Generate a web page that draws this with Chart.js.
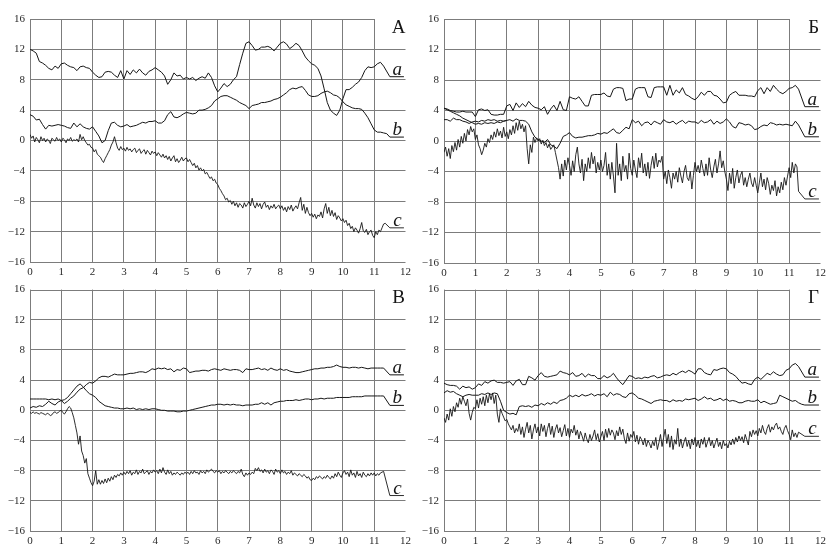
<!DOCTYPE html>
<html><head><meta charset="utf-8">
<script src="https://cdn.jsdelivr.net/npm/chart.js@4.4.1/dist/chart.umd.min.js"></script>
<style>
html,body{margin:0;padding:0;background:#fff}
body{width:830px;height:548px;position:relative;overflow:hidden}
canvas{position:absolute;display:block}
</style></head><body>
<canvas id="c1" width="415" height="278" style="left:0;top:0"></canvas>
<canvas id="c2" width="415" height="278" style="left:415px;top:0"></canvas>
<canvas id="c3" width="415" height="270" style="left:0;top:278px"></canvas>
<canvas id="c4" width="415" height="270" style="left:415px;top:278px"></canvas>
<script>
// ---------- data ----------
const X_MIN = 0, X_MAX = 12, X_STEP_TICK = 1;
const Y_MIN = -16, Y_MAX = 16, Y_STEP_TICK = 4;
const STEP_SMOOTH = 0.1;   // sampling step of a, b curves
const STEP_NOISY = 0.05;   // sampling step of c curves
const PANEL_LETTERS = ["А", "Б", "В", "Г"];
const CURVE_NAMES = ["a", "b", "c"];
const LEAD_X = [11.5, 11.95];          // label leader underline (x from, x to)

// Panel А
const p1a = [12.0,11.8,11.5,10.4,10.2,9.9,9.5,9.3,9.8,9.5,
 10.1,10.2,9.9,9.7,9.6,9.2,9.7,9.8,9.6,9.5,
 9.0,8.6,8.3,8.4,9.0,9.1,9.0,8.6,8.3,9.2,
 8.1,9.2,8.7,9.3,8.9,9.4,8.9,8.6,9.1,9.3,
 9.6,9.3,9.0,8.5,7.4,8.0,8.9,8.5,8.6,8.1,
 8.3,8.1,8.3,7.9,8.2,8.4,8.2,8.9,8.3,7.2,
 6.4,6.9,7.5,7.1,7.4,8.0,8.4,10.0,11.5,12.8,
 13.0,12.5,11.9,12.0,12.3,12.3,12.4,12.2,11.8,12.3,
 12.8,13.0,12.7,12.1,12.4,12.8,12.5,11.8,11.0,10.5,
 10.1,9.9,9.5,8.5,6.8,5.0,4.0,3.6,3.3,4.0,
 5.5,6.7,6.7,7.0,7.4,7.7,8.3,9.2,9.7,9.6,
 9.7,10.1,10.3,9.8];
const p1b = [3.4,3.2,2.7,2.8,2.1,1.5,2.0,1.9,2.0,2.1,
 2.0,1.9,1.7,1.6,2.3,1.8,2.2,1.8,1.6,1.5,
 1.8,1.2,0.6,-0.3,0.0,1.3,2.3,2.4,2.0,1.8,
 1.9,2.1,1.8,1.9,2.0,2.2,2.4,2.3,2.5,2.5,
 2.6,2.3,2.3,2.6,3.4,3.8,3.1,3.0,3.2,3.5,
 3.7,3.6,3.5,3.6,4.0,4.0,4.1,4.3,4.6,5.2,
 5.5,5.8,5.9,5.9,5.7,5.5,5.3,5.0,4.8,4.6,
 4.2,4.6,4.7,4.8,5.0,5.0,5.1,5.2,5.4,5.5,
 5.7,6.0,6.3,6.7,6.9,6.8,7.0,7.1,6.6,6.0,
 5.8,5.8,5.9,6.2,6.4,6.5,6.3,6.0,5.9,5.6,
 5.1,4.7,4.5,4.3,4.2,4.2,4.1,3.6,3.0,2.2,
 1.4,1.1,1.1,1.0,0.9];
const p1c = [0.8,0.3,0.6,-0.2,0.4,0.1,-0.3,0.5,0.0,0.3,-0.2,0.2,0.0,-0.4,0.3,0.1,-0.1,0.4,0.0,0.2,
 -0.2,0.3,0.1,-0.3,0.2,0.0,0.4,-0.1,0.1,0.0,0.2,-0.2,0.8,0.1,0.5,0.0,-0.3,-0.6,-0.5,-0.9,
 -1.0,-1.5,-1.2,-1.8,-2.0,-2.2,-2.6,-2.9,-2.4,-2.0,-1.6,-1.2,-0.6,-0.2,0.5,-0.3,-1.0,-1.3,-0.8,-1.2,
 -1.0,-1.4,-0.9,-1.3,-1.1,-1.5,-1.2,-1.0,-1.6,-1.3,-1.1,-1.7,-1.4,-1.2,-1.8,-1.3,-1.6,-1.9,-1.4,-1.7,
 -1.5,-2.0,-1.6,-1.9,-2.2,-1.8,-2.3,-2.0,-2.5,-2.1,-2.7,-2.3,-2.0,-2.8,-2.4,-2.9,-2.6,-2.2,-2.7,-2.4,
 -2.3,-2.8,-2.5,-2.9,-3.3,-3.0,-3.6,-3.3,-3.9,-3.6,-4.0,-3.8,-4.4,-4.2,-4.6,-5.0,-4.8,-5.3,-5.1,-5.6,
 -5.8,-6.3,-6.6,-7.0,-7.3,-7.8,-7.6,-8.1,-7.9,-8.4,-8.0,-8.6,-8.2,-8.8,-8.3,-8.5,-8.9,-8.2,-8.7,-8.4,
 -8.0,-8.6,-7.6,-8.5,-8.9,-8.2,-8.7,-8.3,-9.0,-8.4,-8.1,-8.8,-8.5,-9.1,-8.6,-8.9,-8.4,-9.0,-8.7,-8.5,
 -9.0,-8.6,-9.2,-8.8,-9.4,-8.7,-9.1,-8.5,-9.3,-8.9,-8.6,-9.0,-8.2,-7.5,-9.2,-8.4,-9.6,-8.8,-9.5,-9.9,
 -9.6,-10.1,-9.7,-10.3,-9.8,-10.0,-9.4,-10.2,-9.0,-8.3,-9.6,-8.8,-9.9,-9.2,-10.0,-9.5,-10.4,-9.9,-10.2,-10.6,
 -10.3,-10.8,-10.5,-11.2,-10.9,-11.6,-11.3,-12.0,-11.5,-11.8,-12.2,-11.6,-10.8,-11.9,-12.1,-11.7,-12.4,-12.0,-11.8,-12.5,
 -12.8,-12.0,-12.4,-11.8,-12.0,-11.5,-11.0,-10.9];
const p1lead = [8.4, 0.45, -11.5];

// Panel Б
const p2a = [4.3,4.2,4.0,3.9,3.8,3.8,3.9,3.8,3.8,3.8,
 3.2,4.1,4.2,4.0,4.1,3.5,3.4,3.4,3.5,3.5,
 4.6,4.8,4.0,5.0,4.4,4.9,4.5,5.2,4.7,4.4,
 4.3,4.1,4.5,3.5,4.2,4.7,4.0,5.2,4.1,4.0,
 5.8,5.6,5.5,5.8,5.2,4.6,4.6,6.0,6.1,6.1,
 6.1,6.3,5.9,5.8,6.8,7.0,7.0,6.9,5.3,5.5,
 5.5,6.8,7.0,7.0,7.0,5.8,5.7,7.0,7.1,7.1,
 7.1,6.0,7.3,6.0,6.7,6.3,7.0,6.1,5.9,5.6,
 5.4,5.8,6.4,6.0,6.5,6.5,6.0,5.9,5.5,5.0,
 5.1,6.0,6.3,6.5,6.0,6.0,6.0,5.9,5.9,5.8,
 6.6,7.0,6.2,7.0,6.5,7.3,6.8,6.4,6.2,6.5,
 6.9,7.0,7.3,6.8];
const p2b = [4.3,4.1,3.9,3.7,3.5,3.3,3.0,2.8,2.6,2.4,
 2.2,2.3,2.2,2.4,2.3,2.4,2.3,2.5,2.4,2.6,
 2.7,2.8,2.6,2.9,2.7,2.7,2.6,2.2,1.2,0.5,
 0.2,0.0,-0.2,0.2,-0.5,-0.7,-1.0,-0.3,0.6,0.8,
 1.1,0.6,0.4,0.5,0.5,0.6,0.7,0.7,0.8,1.0,
 0.9,1.1,1.0,1.3,1.6,1.1,1.0,1.4,1.8,1.6,
 2.8,2.4,2.6,2.0,2.4,2.5,2.1,2.6,2.4,2.2,
 2.8,2.5,2.4,2.6,2.2,2.5,2.7,2.3,2.6,2.5,
 2.5,2.3,2.7,2.4,2.5,2.8,2.2,2.6,2.3,2.5,
 2.9,2.5,1.9,1.7,2.4,2.3,2.1,2.2,2.0,1.5,
 1.6,1.9,2.1,2.0,2.4,2.3,2.1,2.2,2.1,2.2,
 2.1,2.0,2.6,2.1];
const p2c = [-1.5,-0.8,-2.0,-1.0,-2.3,-0.6,-1.4,-0.2,-1.2,0.2,-0.8,0.6,-0.3,1.0,0.0,1.5,0.8,1.9,1.2,1.6,
 0.2,0.8,-0.5,-1.0,-1.8,-1.2,-0.3,-0.8,0.3,-0.2,0.8,0.2,1.2,0.5,1.6,0.7,1.3,0.4,1.8,0.6,
 1.2,0.3,1.5,0.8,2.0,1.0,2.4,1.4,2.6,1.6,2.2,1.2,2.0,-1.0,-3.0,-0.5,-1.5,0.5,-0.2,0.4,
 0.0,0.3,-0.4,0.1,-0.6,-0.2,-0.9,-0.4,-1.1,-0.8,-0.5,-1.5,-2.5,-3.5,-5.0,-3.0,-4.6,-2.5,-3.8,-2.2,
 -3.2,-4.5,-2.6,-4.0,-1.8,-0.8,-3.0,-4.2,-2.4,-5.2,-3.0,-4.0,-2.2,-3.6,-1.5,-3.0,-2.0,-4.2,-2.8,-3.8,
 -2.5,-4.0,-3.2,-1.5,-4.5,-3.0,-5.0,-2.8,-4.6,-6.8,-0.3,-4.5,-3.0,-5.2,-2.0,-4.0,-3.2,-5.0,-1.6,-3.6,
 -4.5,-2.5,-3.8,-4.8,-2.2,-3.5,-1.6,-4.2,-3.0,-4.6,-2.8,-4.9,-3.2,-2.0,-3.6,-1.6,-3.4,-2.5,-2.8,-2.0,
 -5.0,-4.0,-5.6,-3.8,-4.8,-6.2,-4.2,-5.0,-4.0,-5.4,-3.5,-4.6,-5.5,-4.0,-3.2,-4.8,-5.2,-4.0,-6.3,-4.5,
 -2.8,-4.0,-3.2,-4.2,-2.5,-3.6,-4.6,-3.0,-4.5,-2.2,-3.8,-4.8,-3.4,-2.4,-4.2,-3.0,-1.3,-3.5,-2.6,-4.0,
 -5.0,-6.5,-4.2,-5.6,-3.6,-6.2,-4.8,-3.8,-5.5,-4.5,-4.0,-5.8,-4.8,-6.0,-5.0,-4.2,-5.5,-6.0,-4.8,-5.8,
 -6.8,-5.5,-4.2,-6.0,-5.0,-6.4,-4.8,-5.6,-7.0,-5.8,-6.5,-5.2,-7.2,-6.0,-6.8,-5.4,-6.4,-4.8,-5.8,-4.6,
 -3.5,-4.8,-2.8,-4.2,-3.0,-3.4,-6.6];
const p2d = [2.8,2.8,2.6,3.0,2.8,2.8,2.6,2.5,2.3,2.5,
 2.6,2.5,2.7,2.6,2.8,2.7,2.8,2.6,2.7,2.6,2.7];
const p2lead = [4.5, 0.55, -7.6];

// Panel В
const p3a = [0.3,0.5,0.4,0.6,0.5,0.8,1.2,0.9,0.7,1.1,
 1.3,0.9,1.2,1.6,1.9,2.4,2.8,3.0,3.4,3.7,
 3.6,3.9,4.3,4.5,4.5,4.4,4.6,4.8,4.7,4.7,
 4.7,4.8,4.9,4.9,5.0,5.1,5.1,5.0,5.2,5.5,
 5.4,5.6,5.5,5.6,5.4,5.5,5.1,5.4,5.3,5.6,
 5.5,5.0,5.1,5.2,5.2,5.3,5.3,5.2,5.4,5.5,
 5.4,5.3,5.5,5.4,5.3,5.4,5.4,5.3,5.0,5.5,
 5.4,5.4,5.5,5.6,5.4,5.5,5.3,5.6,5.4,5.3,
 5.5,5.3,5.4,5.2,5.1,5.0,5.0,5.1,5.2,5.3,
 5.4,5.5,5.5,5.6,5.6,5.7,5.7,5.8,6.0,5.8,
 5.7,5.7,5.6,5.7,5.7,5.6,5.7,5.6,5.5,5.6,
 5.6,5.6,5.6,5.6];
const p3b = [1.5,1.5,1.5,1.5,1.5,1.5,1.4,1.5,1.4,1.5,
 1.3,1.4,1.7,2.2,2.7,3.2,3.5,3.1,2.6,2.2,
 2.0,1.7,1.2,0.9,0.6,0.5,0.4,0.3,0.3,0.2,
 0.2,0.3,0.2,0.3,0.1,0.2,0.1,0.2,0.1,0.2,
 0.2,0.1,0.0,0.0,-0.1,-0.1,-0.1,-0.2,-0.2,-0.1,
 -0.1,0.0,0.1,0.2,0.3,0.4,0.5,0.6,0.7,0.7,
 0.8,0.8,0.7,0.8,0.7,0.8,0.7,0.7,0.6,0.7,
 0.7,0.7,0.8,0.8,1.0,0.8,1.0,0.7,1.0,1.1,
 1.2,1.2,1.3,1.3,1.3,1.4,1.3,1.4,1.5,1.5,
 1.4,1.5,1.5,1.6,1.5,1.6,1.6,1.6,1.7,1.7,
 1.7,1.7,1.7,1.8,1.8,1.8,1.8,1.9,1.9,1.9,
 1.9,1.9,1.9,1.9];
const p3c = [-0.3,-0.4,-0.2,-0.4,-0.3,-0.4,-0.5,-0.3,-0.4,-0.5,-0.6,-0.4,-0.5,-0.7,-0.6,-0.3,-0.2,-0.4,-0.3,-0.1,
 0.0,-0.3,-0.5,-0.2,0.2,0.5,0.3,-0.3,-1.0,-2.0,-3.0,-4.5,-3.4,-5.4,-6.0,-7.0,-6.4,-8.4,-9.0,-9.6,
 -10.0,-9.4,-8.0,-9.8,-9.2,-9.8,-9.3,-9.7,-9.1,-9.6,-9.0,-9.4,-8.8,-9.2,-8.6,-8.9,-8.5,-8.7,-8.3,-8.6,
 -8.2,-8.5,-8.1,-8.4,-8.0,-8.6,-8.2,-8.4,-7.9,-8.5,-8.1,-8.3,-7.8,-8.4,-8.2,-8.0,-8.5,-8.1,-8.3,-7.9,
 -8.2,-8.0,-8.4,-7.8,-8.3,-7.6,-8.2,-8.5,-7.9,-8.4,-8.1,-8.6,-8.3,-8.5,-8.2,-8.4,-8.6,-8.3,-8.5,-8.2,
 -8.4,-8.2,-8.5,-8.1,-8.4,-8.0,-8.3,-8.2,-8.5,-8.0,-8.3,-8.1,-8.4,-7.9,-8.2,-8.0,-7.8,-8.1,-8.3,-8.0,
 -8.2,-8.0,-8.4,-8.1,-8.3,-8.0,-8.2,-8.4,-8.1,-8.3,-8.0,-8.2,-8.4,-8.1,-8.3,-7.8,-8.5,-8.8,-8.3,-8.6,
 -8.3,-8.5,-8.2,-8.4,-7.7,-8.0,-7.6,-8.1,-7.9,-8.3,-7.8,-8.2,-8.0,-8.4,-7.9,-8.1,-8.5,-7.8,-8.2,-8.0,
 -8.4,-7.9,-8.3,-8.1,-8.5,-8.2,-8.4,-8.0,-8.6,-8.3,-8.5,-8.7,-8.4,-8.6,-8.8,-8.5,-8.7,-9.0,-8.8,-9.2,
 -9.3,-9.0,-9.2,-8.8,-9.0,-8.7,-8.9,-9.1,-8.8,-9.0,-8.6,-8.9,-9.1,-8.7,-9.0,-8.4,-8.8,-8.2,-8.6,-8.9,
 -8.3,-8.0,-8.5,-8.2,-8.8,-7.9,-8.6,-8.3,-8.9,-8.1,-8.7,-8.4,-8.9,-8.2,-8.6,-8.8,-8.4,-8.7,-8.3,-8.6,
 -8.3,-8.7,-8.4,-8.6,-8.3,-8.2,-8.1];
const p3lead = [4.7, 0.65, -11.3];

// Panel Г
const p4a = [3.6,3.4,3.3,3.3,3.2,2.8,3.2,3.0,3.1,2.8,
 3.0,3.5,3.3,3.8,3.6,3.9,4.0,3.7,3.7,3.6,
 3.7,3.8,3.3,3.9,4.1,3.4,3.4,4.5,4.3,4.0,
 4.6,5.0,4.5,4.4,4.5,4.6,4.7,5.2,5.0,4.9,
 4.7,5.0,4.5,4.6,4.9,4.4,4.8,4.6,4.6,4.2,
 4.2,4.6,4.3,4.5,4.9,4.3,3.8,3.4,4.0,4.6,
 4.5,4.2,4.3,4.2,4.4,4.3,4.5,4.6,4.3,4.4,
 4.6,4.7,4.6,4.9,4.7,5.0,5.2,5.0,5.3,5.1,
 4.8,5.5,5.5,5.0,4.8,4.7,5.4,5.3,5.5,5.6,
 5.5,5.0,4.8,4.5,4.0,3.6,3.7,3.5,3.4,4.1,
 4.4,4.1,4.5,4.9,4.7,5.1,4.8,4.6,4.7,5.3,
 5.5,6.0,6.2,5.8];
const p4b = [2.3,2.6,2.4,2.5,2.2,2.0,1.8,2.0,2.1,2.0,
 2.0,2.0,2.2,2.1,2.3,2.1,2.3,2.2,1.2,0.0,
 -0.3,-0.5,-0.4,-0.6,0.5,0.6,0.5,0.6,0.4,0.7,
 0.6,0.9,0.7,1.0,0.8,1.1,0.9,1.3,1.4,1.6,
 2.0,1.8,2.0,1.8,2.1,1.9,2.0,2.2,1.9,2.1,
 2.0,2.2,1.8,2.4,2.0,2.2,2.1,1.8,1.7,2.2,
 2.3,2.0,1.6,1.5,1.3,1.1,0.9,1.2,1.3,1.4,
 1.3,1.3,1.1,1.4,1.2,1.3,1.2,1.5,1.4,1.5,
 1.6,1.3,1.5,1.8,1.5,1.6,1.3,1.4,1.6,1.3,
 1.5,1.2,1.3,1.2,1.0,1.0,1.2,1.3,1.2,1.2,
 1.4,1.0,1.2,1.0,0.8,0.9,1.0,2.0,1.8,1.6,
 1.4,1.2,1.3,1.0,0.8];
const p4c = [-1.0,-1.6,-0.5,-1.3,0.2,-0.8,0.5,-0.2,1.0,0.4,1.6,0.8,1.8,1.2,0.6,1.5,-0.4,-1.3,-0.3,0.4,
 0.2,1.4,0.3,1.6,0.8,1.8,0.6,2.0,1.0,2.2,1.4,2.3,0.9,2.0,-0.5,-1.6,0.2,-0.4,-0.9,-1.4,
 -1.2,-1.8,-2.2,-2.6,-2.0,-3.0,-2.4,-2.8,-1.8,-3.2,-2.2,-3.6,-2.5,-1.6,-3.0,-2.0,-3.8,-2.6,-1.8,-3.0,
 -2.2,-3.4,-1.8,-2.8,-2.0,-3.5,-2.4,-1.7,-3.2,-2.1,-3.6,-2.5,-1.9,-3.0,-2.3,-3.5,-2.7,-1.9,-3.4,-2.4,
 -3.6,-2.5,-3.0,-2.0,-3.3,-2.6,-3.8,-2.8,-3.4,-4.1,-3.0,-3.8,-4.3,-3.2,-4.0,-3.4,-2.6,-3.9,-3.1,-4.2,
 -3.5,-2.8,-4.0,-2.5,-3.6,-2.4,-3.3,-2.6,-3.0,-3.9,-2.7,-3.4,-2.2,-3.2,-2.5,-3.8,-4.4,-3.0,-4.1,-3.2,
 -3.6,-2.8,-4.2,-3.3,-4.5,-3.5,-3.9,-4.6,-3.7,-4.8,-4.0,-4.4,-5.0,-4.1,-4.7,-3.6,-5.2,-4.3,-3.2,-4.8,
 -3.6,-2.5,-4.4,-3.2,-4.9,-3.4,-5.2,-3.9,-4.5,-2.4,-4.8,-3.8,-5.0,-4.2,-3.6,-4.8,-4.0,-5.1,-3.8,-4.6,
 -3.6,-4.8,-4.0,-5.0,-3.8,-4.5,-3.6,-4.9,-4.2,-3.6,-4.7,-4.0,-5.0,-4.3,-3.7,-4.8,-4.2,-5.1,-4.0,-4.7,
 -4.4,-5.0,-4.1,-4.6,-3.8,-4.5,-3.6,-4.2,-3.4,-4.0,-3.5,-4.3,-3.2,-3.9,-4.6,-2.8,-3.5,-2.6,-3.2,-2.7,
 -3.4,-2.4,-3.0,-2.0,-2.8,-3.2,-2.4,-1.9,-2.9,-2.2,-2.6,-2.0,-1.7,-2.5,-2.2,-2.8,-3.2,-2.4,-2.0,-2.7,
 -3.2,-3.9,-2.6,-3.5,-3.0,-3.6,-2.9];
const p4lead = [4.4, 0.7, -3.45];

// ---------- drawing ----------
const GRID = "#7c7c7c";
const INK = "#161616";
const FONT = '"Liberation Serif", "Times New Roman", serif';

function pts(vals, step, lead){
  const d = vals.map((y, i) => ({x: +(i * step).toFixed(2), y}));
  if (lead !== undefined) LEAD_X.forEach(x => d.push({x, y: lead}));
  return d;
}
function fmt(v){ return v < 0 ? "\u2212" + Math.abs(v) : String(v); }

const deco = {
  id: "deco",
  afterDraw(chart, args, o){
    const {ctx, scales: {x, y}} = chart;
    ctx.save();
    ctx.strokeStyle = GRID; ctx.lineWidth = 1;
    const yy = Math.round(y.getPixelForValue(Y_MAX)) + 0.5;
    ctx.beginPath();
    ctx.moveTo(Math.round(x.getPixelForValue(0)), yy);
    ctx.lineTo(Math.round(x.getPixelForValue(11)) + 1, yy);
    ctx.stroke();
    ctx.fillStyle = INK;
    ctx.textAlign = "center"; ctx.textBaseline = "alphabetic";
    ctx.font = "19px " + FONT;
    ctx.fillText(o.letter, x.getPixelForValue(11.78), y.getPixelForValue(14.2));
    ctx.font = "italic 19px " + FONT;
    o.lead.forEach((lv, i) => ctx.fillText(CURVE_NAMES[i], x.getPixelForValue(11.74), y.getPixelForValue(lv) - 2));
    ctx.restore();
  }
};

function makeChart(id, letter, series, lead, left, top, bottomH){
  const datasets = series.map(s => ({
    data: pts(s.v, s.step, s.lead),
    borderColor: INK, borderWidth: s.w || 1, pointRadius: 0, tension: 0, fill: false
  }));
  new Chart(document.getElementById(id), {
    type: "line",
    data: {datasets},
    plugins: [deco],
    options: {
      responsive: false, animation: false, events: [],
      layout: {padding: {top: top, right: 8, left: 0, bottom: 0}},
      plugins: {legend: {display: false}, tooltip: {enabled: false}, deco: {letter, lead}},
      scales: {
        x: {
          type: "linear", min: X_MIN, max: X_MAX,
          afterFit: s => { s.height = bottomH; },
          ticks: {stepSize: X_STEP_TICK, padding: 4, color: "#2a2a2a", font: {family: FONT, size: 11}, maxRotation: 0, callback: fmt},
          grid: {color: c => c.tick && c.tick.value === X_MAX ? "rgba(0,0,0,0)" : GRID, lineWidth: 1, drawTicks: false},
          border: {display: false}
        },
        y: {
          type: "linear", min: Y_MIN, max: Y_MAX,
          afterFit: s => { s.width = left; },
          ticks: {stepSize: Y_STEP_TICK, padding: 5, color: "#2a2a2a", font: {family: FONT, size: 11}, callback: fmt},
          grid: {color: c => c.tick && c.tick.value === Y_MAX ? "rgba(0,0,0,0)" : GRID, lineWidth: 1, drawTicks: false},
          border: {display: false}
        }
      }
    }
  });
}

makeChart("c1", PANEL_LETTERS[0], [
  {v: p1a, step: STEP_SMOOTH, lead: p1lead[0]},
  {v: p1b, step: STEP_SMOOTH, lead: p1lead[1]},
  {v: p1c, step: STEP_NOISY, lead: p1lead[2], w: 0.9}
], p1lead, 30, 19, 16);
makeChart("c2", PANEL_LETTERS[1], [
  {v: p2a, step: STEP_SMOOTH, lead: p2lead[0]},
  {v: p2b, step: STEP_SMOOTH, lead: p2lead[1]},
  {v: p2c, step: STEP_NOISY, lead: p2lead[2], w: 0.9},
  {v: p2d, step: STEP_SMOOTH}
], p2lead, 29, 19, 15);
makeChart("c3", PANEL_LETTERS[2], [
  {v: p3a, step: STEP_SMOOTH, lead: p3lead[0]},
  {v: p3b, step: STEP_SMOOTH, lead: p3lead[1]},
  {v: p3c, step: STEP_NOISY, lead: p3lead[2], w: 0.9}
], p3lead, 30, 9, 17);
makeChart("c4", PANEL_LETTERS[3], [
  {v: p4a, step: STEP_SMOOTH, lead: p4lead[0]},
  {v: p4b, step: STEP_SMOOTH, lead: p4lead[1]},
  {v: p4c, step: STEP_NOISY, lead: p4lead[2], w: 0.9}
], p4lead, 29, 9, 17);
</script>
</body></html>
